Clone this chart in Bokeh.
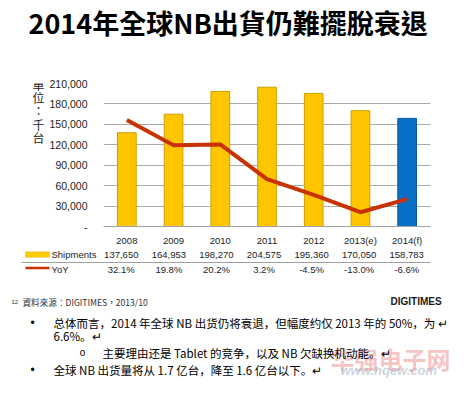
from bokeh.plotting import figure
from bokeh.models import Range1d, Label, ColumnDataSource, BoxAnnotation
from bokeh.layouts import column, row
from bokeh.core.properties import value
from bokeh.embed import file_html
from bokeh.resources import INLINE

# ---- data ----
years = ["2008", "2009", "2010", "2011", "2012", "2013(e)", "2014(f)"]
shipments = [137650, 164953, 198270, 204575, 195360, 170050, 158783]
yoy = [32.1, 19.8, 20.2, 3.2, -4.5, -13.0, -6.6]
y_ticks = [0, 30000, 60000, 90000, 120000, 150000, 180000, 210000]
y_tick_labels = ["-", "30,000", "60,000", "90,000", "120,000", "150,000", "180,000", "210,000"]
bar_fill = ["#FFC600"] * 6 + ["#0870C6"]
bar_edge = ["#D09E00"] * 6 + ["#0A5A9C"]

title = "2014年全球NB出貨仍難擺脫衰退"
unit_chars = ["單", "位", "：", "千", "台"]
source_note = "資料來源：DIGITIMES，2013/10"
bullets = [
    "总体而言，2014 年全球 NB 出货仍将衰退，但幅度约仅 2013 年的 50%，为 ↵",
    "6.6%。↵",
    "主要理由还是 Tablet 的竞争，以及 NB 欠缺换机动能。↵",
    "全球 NB 出货量将从 1.7 亿台，降至 1.6 亿台以下。↵",
]

LAT = "Liberation Sans"
CJK_TC = "Noto Sans CJK TC"
CJK_SC = "Noto Sans CJK SC"

W = 452
H_TITLE, H_CHART, H_TABLE, H_FOOT = 70, 178, 32, 98
UNIT_W = 46
FRAME_L, FRAME_R = 97, 430          # frame position across the full width
n = len(years)
xs = list(range(n))


def blank(width, height, x_range=None, y_range=None):
    f = figure(width=width, height=height, output_backend="svg", toolbar_location=None,
               title=None, x_axis_type=None, y_axis_type=None,
               x_range=x_range or Range1d(0, width), y_range=y_range or Range1d(height, 0),
               min_border=0, min_border_left=0, min_border_right=0,
               min_border_top=0, min_border_bottom=0)
    f.outline_line_color = None
    f.grid.visible = False
    f.background_fill_color = "white"
    f.border_fill_color = "white"
    return f


def lbl(f, x, y, text, size, font=LAT, align="left", baseline="middle", color="#222222",
        style="normal", alpha=1.0):
    f.add_layout(Label(x=x, y=y, x_units="canvas", y_units="canvas", text=text,
                       text_align=align, text_baseline=baseline, text_font=font,
                       text_font_size=size, text_color=color, text_font_style=style,
                       text_alpha=alpha))


def box(f, left, right, top, bottom, fill, line=None):
    f.add_layout(BoxAnnotation(left=left, right=right, top=top, bottom=bottom,
                               left_units="canvas", right_units="canvas",
                               top_units="canvas", bottom_units="canvas",
                               fill_color=fill, fill_alpha=1, line_color=line,
                               line_width=1))


# ---- title ----
t = blank(W, H_TITLE)
lbl(t, 28, 21.5, title, "27px", font=CJK_TC, color="#000000", style="bold")

# ---- unit label (vertical, one character per line) ----
u = blank(UNIT_W, H_CHART)
for i, ch in enumerate(unit_chars):
    lbl(u, 38, 14 + 13.2 * i, ch, "12px", font=CJK_TC, align="center", color="#222222")

# ---- chart ----
src = ColumnDataSource(dict(x=xs, ship=shipments, yoy=yoy, fill=bar_fill, edge=bar_edge))
p = figure(width=W - UNIT_W, height=H_CHART, output_backend="svg", toolbar_location=None,
           title=None, x_range=Range1d(-0.5, n - 0.5), y_range=Range1d(0, 210000),
           min_border_left=FRAME_L - UNIT_W, min_border_right=W - FRAME_R,
           min_border_top=13, min_border_bottom=15)
p.outline_line_color = None
p.extra_y_ranges = {"yoy": Range1d(-20, 50)}

p.yaxis.ticker = y_ticks
p.yaxis.major_label_overrides = {tk: lb for tk, lb in zip(y_ticks, y_tick_labels)}
p.yaxis.axis_line_color = None
p.yaxis.major_tick_line_color = None
p.yaxis.minor_tick_line_color = None
p.yaxis.major_label_standoff = 10
p.yaxis.major_label_text_font = LAT
p.yaxis.major_label_text_font_size = "10.5px"
p.yaxis.major_label_text_color = "#222222"

p.xaxis.ticker = xs
p.xaxis.major_label_overrides = {i: y for i, y in zip(xs, years)}
p.xaxis.axis_line_color = "#A0A0A0"
p.xaxis.major_tick_line_color = None
p.xaxis.minor_tick_line_color = None
p.xaxis.major_label_standoff = 2
p.xaxis.major_label_text_font = LAT
p.xaxis.major_label_text_font_size = "9.5px"
p.xaxis.major_label_text_color = "#222222"

p.xgrid.visible = False
p.ygrid.ticker = y_ticks
p.ygrid.grid_line_color = "#ABABAB"

p.vbar(x="x", top="ship", width=0.4, fill_color="fill", line_color="edge", line_width=1, source=src)
p.line(x="x", y="yoy", y_range_name="yoy", line_color="#C83200", line_width=4,
       line_join="round", source=src)

# ---- data table under the chart (same x scale as the chart) ----
ppu = (FRAME_R - FRAME_L) / n
tb = blank(W, H_TABLE,
           x_range=Range1d(-0.5 - FRAME_L / ppu, n - 0.5 + (W - FRAME_R) / ppu),
           y_range=Range1d(H_TABLE, 0))
tsrc = ColumnDataSource(dict(
    x=xs,
    ship_lbl=[f"{v:,}" for v in shipments],
    yoy_lbl=[f"{v:.1f}%" for v in yoy],
))
tb.text(x="x", y=6, text="ship_lbl", source=tsrc, text_align="center", text_baseline="middle",
        text_font=value(LAT), text_font_size="9.5px", text_color="#222222")
tb.text(x="x", y=21, text="yoy_lbl", source=tsrc, text_align="center", text_baseline="middle",
        text_font=value(LAT), text_font_size="9.5px", text_color="#222222")
lbl(tb, 51, 6, "Shipments", "9.5px")
lbl(tb, 51, 21, "YoY", "9.5px")
box(tb, 21, FRAME_R, 13.5, 14.5, "#A0A0A0")
box(tb, 25, 49, 3.3, 8.8, "#FFCC00", "#C89A00")
box(tb, 25, 49, 18.2, 20.8, "#C83200")

# ---- footer and notes ----
ft = blank(W, H_FOOT)
lbl(ft, 11, 21, "12", "6px", color="#333333")
lbl(ft, 22, 21, source_note, "8.6px", font=CJK_TC, color="#333333")
lbl(ft, 390, 21, "DIGITIMES", "10px", color="#1a1a1a", style="bold")
lbl(ft, 330, 78, "华强电子网", "24px", font=CJK_SC, color="#F08A8A", style="bold", alpha=0.5)
lbl(ft, 340, 90, "www.hqew.com", "13px", color="#A8B8C8", style="bold italic", alpha=0.6)
bullet_ys = [42, 55, 72, 89]
lbl(ft, 32, bullet_ys[0], "•", "12px", color="#000000", align="center")
lbl(ft, 32, bullet_ys[3], "•", "12px", color="#000000", align="center")
lbl(ft, 82, bullet_ys[2], "o", "10px", color="#000000", align="center")
for txt, yy, xx in zip(bullets, bullet_ys, [53, 53, 102, 53]):
    lbl(ft, xx, yy, txt, "11.5px", font=CJK_SC, color="#000000")

layout = column(t, row(u, p), tb, ft)
open("out.html", "w").write(file_html(layout, INLINE))
